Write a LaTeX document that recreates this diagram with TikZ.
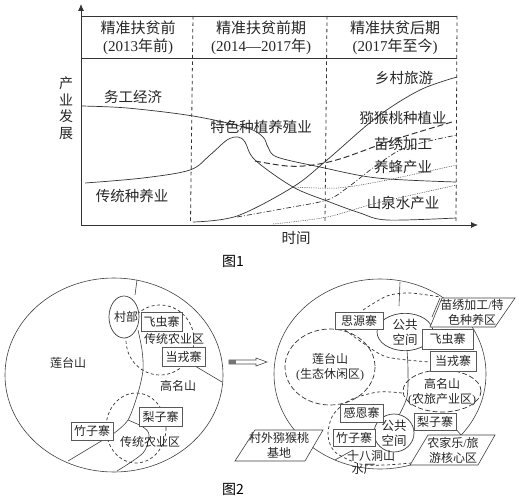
\documentclass[tikz,border=0pt]{standalone}
\usepackage{fontspec}
\usetikzlibrary{arrows.meta,shapes.geometric}
\setmainfont{Liberation Serif}
\newfontfamily\cjkf{Noto Sans CJK SC}
\newcommand{\lat}[1]{{\rmfamily #1}}
\tikzset{
 lab/.style={font=\fontsize{14.5}{16}\selectfont\cjkf,inner sep=0pt,align=center,text=black!85},
 head/.style={font=\fontsize{15}{18}\selectfont\cjkf,inner sep=0pt,align=center,text=black!85},
 small/.style={font=\fontsize{12}{15}\selectfont\cjkf,inner sep=0pt,align=center,text=black!85},
 cur/.style={draw=black!80,line width=.7pt,smooth,tension=.55},
 sep/.style={draw=black!80,dash pattern=on 3.5pt off 3pt,line width=.8pt},
 zone/.style={draw=black!80,dash pattern=on 3pt off 2.5pt,line width=.7pt},
 sqbox/.style={draw=black!65,line width=.8pt,fill=white,inner sep=0pt},
 edge/.style={draw=black!75,line width=.6pt},
}
\begin{document}
\begin{tikzpicture}[x=1pt,y=-1pt]
\useasboundingbox (0,0) rectangle (519,500);
% ---- Figure 1
\coordinate (O) at (81,225);
\coordinate (ytip) at (81,4);
\coordinate (xtip) at (478,225);
\draw[line width=.8pt,black!80,-{Latex[length=7pt,width=6pt]}] (O) -- (ytip);
\draw[line width=.8pt,black!80,-{Latex[length=7pt,width=6pt]}] (O) -- (xtip);
\draw[line width=.8pt,black!80] (81,16) -- (457,16) (81,58) -- (457,58);
\draw[sep] (193,16) -- (190.5,222);
\draw[sep] (327,16) -- (325,222);
\draw[sep] (457,16) -- (456,222);
\node[head] (h1) at (138,38) {精准扶贫前\\\lat{(2013}年前\lat{)}};
\node[head] (h2) at (261,38) {精准扶贫前期\\\lat{(2014—2017}年\lat{)}};
\node[head] (h3) at (395,38) {精准扶贫后期\\\lat{(2017}年至今\lat{)}};
\draw[cur] plot coordinates {(81,106) (127,108) (193,116) (247,128) (263,137) (268,147) (277,157) (320,167) (377,178) (456,182)};
\draw[cur] plot coordinates {(85,183) (143,178) (190,170) (210,155) (227,140) (238,137) (245,142) (255,160) (293,187) (327,201) (360,213) (387,220) (456,218)};
\draw[cur] plot coordinates {(193,222) (237,216) (293,187) (327,160) (377,117) (420,90) (457,77)};
\draw[cur,line width=1pt,dash pattern=on 6pt off 3pt] plot coordinates {(255,161) (287,166) (313,165) (343,158) (393,140) (452,122)};
\draw[cur,dash pattern=on 5pt off 2pt on 1pt off 2pt] plot coordinates {(237,217) (287,208) (327,200) (347,188) (377,165) (407,147) (457,135)};
\draw[cur,line width=.5pt,dash pattern=on .8pt off 1pt] plot coordinates {(293,187) (337,188) (377,182) (420,173) (457,165)};
\draw[cur,line width=.5pt,dash pattern=on .8pt off 1pt] plot coordinates {(273,224) (327,217) (377,203) (457,185)};
\node[lab] (l1) at (404,78) {乡村旅游};
\node[lab] (l2) at (133,97) {务工经济};
\node[lab] (l3) at (261,127) {特色种植养殖业};
\node[lab] (l4) at (403,118) {猕猴桃种植业};
\node[lab] (l5) at (403,144) {苗绣加工};
\node[lab] (l6) at (403,167) {养蜂产业};
\node[lab] (l7) at (403,203) {山泉水产业};
\node[lab] (l8) at (132,196) {传统种养业};
\node[lab] (l9) at (296,238) {时间};
\node[lab,font=\fontsize{14}{16.5}\selectfont\cjkf] (l10) at (66,108) {产\\业\\发\\展};
\node[lab,text=black,font=\fontsize{14}{16}\selectfont\cjkf] (c1) at (233,261) {图1};
% ---- Figure 2 left
\draw[edge] (114,375) ellipse [x radius=109,y radius=97];
\draw[edge] (137,280) -- (135,295);
\draw[edge,smooth] plot coordinates {(138,330) (142,350) (143,370) (138,393) (128,420) (113,434)};
\draw[edge] (103,440) -- (68,461);
\draw[edge,smooth] plot coordinates {(128,420) (143,427) (149,435) (143,453) (117,471)};
\draw[edge] (195,366) -- (222,382);
\draw[zone] (160,340) ellipse [x radius=34,y radius=35];
\draw[zone] (136,428) ellipse [x radius=30,y radius=35];
\node[draw=black!75,line width=.7pt,ellipse,fill=white,minimum width=30pt,minimum height=42pt,inner sep=0pt] (vb) at (124,317) {};
\node[small] (vbt) at (126,317) {村部};
\node[small] (a1) at (68,363) {莲台山};
\node[small] (a2) at (178,386) {高名山};
\node[small] (a3) at (174,339) {传统农业区};
\node[small] (a4) at (150,442) {传统农业区};
\node[sqbox,small,fill=none,minimum width=41pt,minimum height=19pt] (b1) at (161.5,321.5) {飞虫寨};
\node[sqbox,small,minimum width=43pt,minimum height=19pt] (b2) at (183.5,356.5) {当戎寨};
\node[sqbox,small,minimum width=43pt,minimum height=19pt] (b3) at (160.5,416.5) {梨子寨};
\node[sqbox,small,minimum width=42pt,minimum height=18pt] (b4) at (92,431) {竹子寨};
% ---- Arrow
\draw[black!70,line width=.6pt,fill=white] (229,360) -- (256,360) -- (256,358) -- (267,362) -- (256,366) -- (256,364) -- (229,364) -- cycle;
\fill[black!55] (229,360) rectangle (236,364);
% ---- Figure 2 right
\draw[edge] (380,374) ellipse [x radius=106,y radius=95];
\draw[edge] (400,282) -- (399,306);
\draw[edge,smooth] plot coordinates {(407,350) (408,370) (407,397) (398,417)};
\draw[edge] (335,460) -- (353,450);
\draw[edge] (440,298) -- (432,317);
\draw[edge] (455,428) -- (461,435);
\draw[zone,smooth] plot coordinates {(363,310) (387,296) (410,293) (440,297)};
\draw[zone,smooth] plot coordinates {(345,330) (363,343) (387,357) (430,362)};
\draw[zone,dash pattern=on 5pt off 2.5pt] (330,367) ellipse [x radius=45,y radius=38];
\draw[zone,dash pattern=on 5pt off 2.5pt] (442,391) ellipse [x radius=39,y radius=21];
\draw[zone,smooth] plot coordinates {(402,393) (378,392) (350,400) (333,415) (328,435) (335,452) (360,464) (385,465) (411,463)};
\node[draw=black!75,line width=.7pt,ellipse,fill=white,minimum width=56pt,minimum height=37pt,inner sep=0pt,small,font=\fontsize{12.5}{15}\selectfont\cjkf] (p1) at (405,332) {公共\\空间};
\node[draw=black!75,line width=.7pt,ellipse,fill=white,minimum width=40pt,minimum height=38pt,inner sep=0pt,small,font=\fontsize{12.5}{15}\selectfont\cjkf] (p2) at (394,433) {公共\\空间};
\node[sqbox,small,minimum width=48pt,minimum height=17pt] (r1) at (359,320.5) {思源寨};
\node[sqbox,small,minimum width=51pt,minimum height=20pt] (r2) at (447.5,339) {飞虫寨};
\node[sqbox,small,minimum width=46pt,minimum height=20pt] (r3) at (453,361) {当戎寨};
\node[sqbox,small,minimum width=43pt,minimum height=18pt] (r4) at (361.5,413) {感恩寨};
\node[sqbox,small,minimum width=42pt,minimum height=17pt] (r5) at (354,437.5) {竹子寨};
\node[sqbox,small,minimum width=42pt,minimum height=17pt] (r6) at (435,421.5) {梨子寨};
\node[small] (r7) at (330,367) {莲台山\\\lat{(}生态休闲区\lat{)}};
\node[small] (r8) at (442,392) {高名山\\\lat{(}农旅产业区\lat{)}};
\node[small,font=\fontsize{12}{13}\selectfont\cjkf] (r9) at (371,462.5) {十八洞山\\水厂\hspace*{15pt}};
\coordinate (q1a) at (442,298); \coordinate (q1b) at (515,298); \coordinate (q1c) at (495,327); \coordinate (q1d) at (430,327);
\draw[edge,fill=white] (q1a) -- (q1b) -- (q1c) -- (q1d) -- cycle;
\node[small] (t1) at (472,312.5) {苗绣加工\lat{/}特\\色种养区};
\coordinate (q2a) at (255,430); \coordinate (q2b) at (323,430); \coordinate (q2c) at (305,461); \coordinate (q2d) at (235,461);
\draw[edge,fill=white] (q2a) -- (q2b) -- (q2c) -- (q2d) -- cycle;
\node[small] (t2) at (279,445.5) {村外猕猴桃\\基地};
\coordinate (q3a) at (428,435); \coordinate (q3b) at (495,435); \coordinate (q3c) at (478,465); \coordinate (q3d) at (410,465);
\draw[edge,fill=white] (q3a) -- (q3b) -- (q3c) -- (q3d) -- cycle;
\node[small] (t3) at (453,450) {农家乐\lat{/}旅\\游核心区};
\node[lab,text=black,font=\fontsize{14}{16}\selectfont\cjkf] (c2) at (233,489) {图2};
\end{tikzpicture}
\end{document}
